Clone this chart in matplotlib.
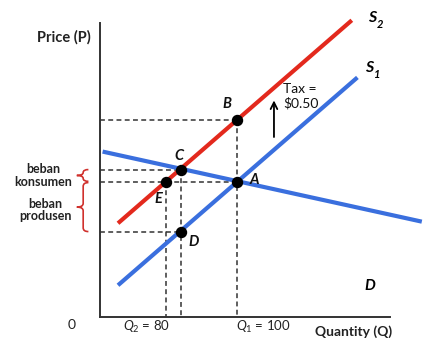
import matplotlib
matplotlib.use('Agg')
import matplotlib.pyplot as plt
from matplotlib.path import Path
from matplotlib.patches import PathPatch

plt.rcParams['font.family'] = ['Lato', 'DejaVu Sans']
plt.rcParams['mathtext.fontset'] = 'custom'
plt.rcParams['mathtext.rm'] = 'Lato'
plt.rcParams['mathtext.it'] = 'Lato:italic'
plt.rcParams['mathtext.bf'] = 'Lato:bold'

# ---------------- data ----------------
supply1_q = [57.5, 143.0]
supply1_p = [0.167, 1.843]
supply2_q = [57.5, 141.0]
supply2_p = [0.667, 2.304]
demand_q = [52.0, 166.0]
demand_p = [1.245, 0.680]

point_names = ['A', 'B', 'C', 'D', 'E']
point_q = [100.0, 100.0, 80.0, 80.0, 74.5]
point_p = [1.00, 1.50, 1.10, 0.60, 1.00]

q_tick_labels = ['$Q_2$ = 80', '$Q_1$ = 100']
tax_label = 'Tax =\n$0.50'
tax_arrow_q = 113.2
tax_arrow_p = [1.34, 1.68]

burden_labels = ['beban\nkonsumen', 'beban\nprodusen']
burden_ranges = [(1.10, 1.005), (0.995, 0.60)]

# ---------------- figure ----------------
W, H = 423, 339
fig = plt.figure(figsize=(W / 100, H / 100), dpi=100)
ax = fig.add_axes([100 / W, (H - 317) / H, 290 / W, 294 / H])
ax.set_xlim(51.07, 154.64)
ax.set_ylim(-0.089, 2.282)
for s in ['top', 'right']:
    ax.spines[s].set_visible(False)
for s in ['left', 'bottom']:
    ax.spines[s].set_color('#333333')
    ax.spines[s].set_linewidth(1.4)
ax.set_xticks([])
ax.set_yticks([])

xmin, xmax = ax.get_xlim()
ymin, ymax = ax.get_ylim()

RED = '#e3291d'
BLUE = '#3a6fde'
DASH = dict(color='#333333', lw=1.1, dashes=(3.2, 2.2), zorder=2)

pts = dict(zip(point_names, zip(point_q, point_p)))

# dashed guide lines
for name in ['B', 'C', 'A', 'D']:
    q, p = pts[name]
    ax.plot([xmin, q], [p, p], **DASH)
for name in ['B', 'C', 'E']:
    q, p = pts[name]
    ax.plot([q, q], [p, ymin], **DASH)

# curves
ax.plot(supply2_q, supply2_p, color=RED, lw=3.0, solid_capstyle='butt', zorder=3, clip_on=False)
ax.plot(supply1_q, supply1_p, color=BLUE, lw=3.0, solid_capstyle='butt', zorder=3, clip_on=False)
ax.plot(demand_q, demand_p, color=BLUE, lw=3.0, solid_capstyle='butt', zorder=3, clip_on=False)

# points
ax.plot(point_q, point_p, 'o', color='black', ms=7.2, zorder=5)

# point labels
offsets = {'A': (17, 2), 'B': (-10, 16), 'C': (-2, 14), 'D': (13, -10), 'E': (-7, -17)}
for name in point_names:
    ax.annotate(name, pts[name], xytext=offsets[name], textcoords='offset pixels',
                ha='center', va='center', fontsize=10.5, fontweight='bold',
                fontstyle='italic', color='#111111', zorder=6)

# tax arrow
ax.annotate('', xy=(tax_arrow_q, tax_arrow_p[1]), xytext=(tax_arrow_q, tax_arrow_p[0]),
            arrowprops=dict(arrowstyle='->', lw=1.3, color='black', mutation_scale=12))

def ftext(x, y, s, **kw):
    fig.text(x / W, 1 - y / H, s, **kw)

ftext(283, 96.5, tax_label, ha='left', va='center', fontsize=10, linespacing=1.2, color='#111111')

# curve labels
ftext(372, 18, 'S', ha='center', va='center', fontsize=11.5, fontweight='bold', fontstyle='italic')
ftext(380, 24, '2', ha='center', va='center', fontsize=8, fontweight='bold', fontstyle='italic')
ftext(369, 68, 'S', ha='center', va='center', fontsize=11.5, fontweight='bold', fontstyle='italic')
ftext(377, 74, '1', ha='center', va='center', fontsize=8, fontweight='bold', fontstyle='italic')
ftext(370, 286, 'D', ha='center', va='center', fontsize=11, fontweight='bold', fontstyle='italic')

# axis labels
ftext(64, 37, 'Price (P)', ha='center', va='center', fontsize=10.5, fontweight='bold', color='#222222')
ftext(354, 332, 'Quantity (Q)', ha='center', va='center', fontsize=10, fontweight='bold', color='#222222')
ftext(72, 325, '0', ha='center', va='center', fontsize=10, color='#222222')
ftext(147, 327, q_tick_labels[0], ha='center', va='center', fontsize=9.5, color='#222222')
ftext(263, 327, q_tick_labels[1], ha='center', va='center', fontsize=9.5, color='#222222')

# burden braces
trans = ax.get_yaxis_transform()
xe, xb, xt = -0.040, -0.058, -0.080

def brace(y1, y2):
    ym = (y1 + y2) / 2
    r = min(0.03, abs(y1 - y2) / 4)
    verts = [(xe, y1), (xb, y1), (xb, y1 - r),
             (xb, ym + r),
             (xb, ym), (xt, ym),
             (xb, ym), (xb, ym - r),
             (xb, y2 + r),
             (xb, y2), (xe, y2)]
    codes = [Path.MOVETO, Path.CURVE3, Path.CURVE3,
             Path.LINETO,
             Path.CURVE3, Path.CURVE3,
             Path.CURVE3, Path.CURVE3,
             Path.LINETO,
             Path.CURVE3, Path.CURVE3]
    patch = PathPatch(Path(verts, codes), transform=trans, fill=False,
                      edgecolor='#d0312d', lw=1.2, clip_on=False)
    ax.add_patch(patch)

for (y1, y2) in burden_ranges:
    brace(y1, y2)

ftext(43, 175.5, burden_labels[0], ha='center', va='center', fontsize=9,
      fontweight='bold', linespacing=1.1, color='#222222')
ftext(45, 210, burden_labels[1], ha='center', va='center', fontsize=9,
      fontweight='bold', linespacing=1.1, color='#222222')

fig.savefig('out.png', dpi=100)
